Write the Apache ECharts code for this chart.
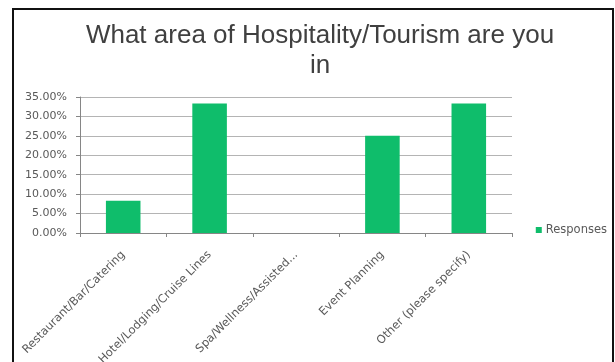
<!DOCTYPE html>
<html>
<head>
<meta charset="utf-8">
<script src="https://cdn.jsdelivr.net/npm/echarts@6/dist/echarts.min.js"></script>
<style>
  html, body { margin: 0; padding: 0; background: #fff; }
  #wrap { position: relative; width: 615px; height: 362px; overflow: hidden; }
  #frame { position: absolute; left: 12px; top: 8px; width: 602px; height: 380px;
           border: 2px solid #111; box-sizing: border-box; }
  #chart { position: absolute; left: 0; top: 0; width: 615px; height: 362px; }
</style>
</head>
<body>
<div id="wrap">
  <div id="frame"></div>
  <div id="chart"></div>
</div>
<script>
// Survey answers: share of respondents per hospitality area
const categories = [
  'Restaurant/Bar/Catering',
  'Hotel/Lodging/Cruise Lines',
  'Spa/Wellness/Assisted...',
  'Event Planning',
  'Other (please specify)'
];
const responses = [0.0833, 0.3333, 0, 0.25, 0.3333];
const yTicks = [0, 0.05, 0.10, 0.15, 0.20, 0.25, 0.30, 0.35];

const titleText = 'What area of Hospitality/Tourism are you\nin';
const seriesName = 'Responses';

const labelFont = 'DejaVu Sans';

const chart = echarts.init(document.getElementById('chart'), null, { renderer: 'canvas' });
chart.setOption({
  animation: false,
  title: {
    text: titleText,
    left: 315,
    textAlign: 'center',
    top: 16,
    textStyle: {
      fontFamily: 'Liberation Sans',
      fontSize: 26,
      fontWeight: 'normal',
      color: '#404040',
      lineHeight: 30
    }
  },
  legend: {
    data: [seriesName],
    right: 3,
    top: 219,
    orient: 'vertical',
    itemWidth: 6,
    itemHeight: 6,
    itemGap: 4,
    icon: 'rect',
    textStyle: { fontFamily: labelFont, fontSize: 11.5, color: '#595959', padding: [0, 0, 0, -1] }
  },
  grid: {
    left: 80, right: 103, top: 97, bottom: 129,
    containLabel: false,
    outerBoundsMode: 'none'
  },
  xAxis: {
    type: 'category',
    data: categories,
    axisLine: { lineStyle: { color: '#868686', width: 1 } },
    axisTick: { show: true, length: 4, lineStyle: { color: '#868686' } },
    axisLabel: {
      rotate: 45,
      interval: 0,
      margin: 20,
      fontFamily: labelFont,
      fontSize: 11.5,
      color: '#595959'
    }
  },
  yAxis: {
    type: 'value',
    min: yTicks[0],
    max: yTicks[yTicks.length - 1],
    interval: 0.05,
    axisLine: { show: true, lineStyle: { color: '#868686', width: 1 } },
    axisTick: { show: true, length: 4, lineStyle: { color: '#868686' } },
    splitLine: { show: true, lineStyle: { color: '#b4b4b4', width: 1 } },
    axisLabel: {
      margin: 13,
      fontFamily: labelFont,
      fontSize: 11,
      color: '#595959',
      formatter: v => (v * 100).toFixed(2) + '%'
    }
  },
  series: [{
    name: seriesName,
    type: 'bar',
    data: responses,
    barWidth: '40%',
    itemStyle: { color: '#0fbd6b' }
  }]
});
</script>
</body>
</html>
